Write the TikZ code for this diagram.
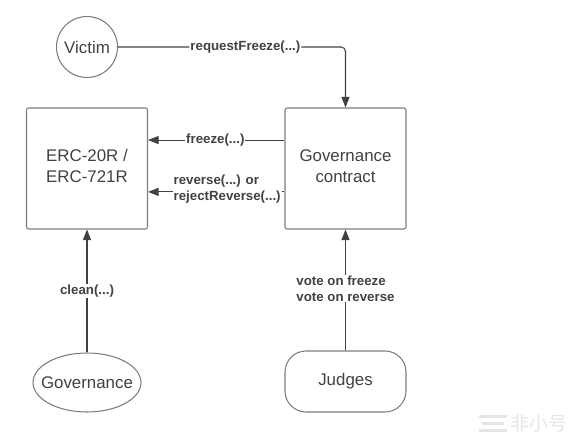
\documentclass[tikz,border=0pt]{standalone}
\usepackage{fontspec}
\setmainfont{Liberation Sans}
\newfontfamily\cjkmark{Noto Sans CJK SC}
\usetikzlibrary{arrows.meta,positioning,calc,shapes.geometric}
\definecolor{inkdark}{HTML}{3F4147}
\definecolor{boxgray}{HTML}{7A7C80}
\definecolor{markgray}{HTML}{E4E5E7}
\tikzset{
  mainbox/.style={draw=boxgray,rounded corners=1.2pt,line width=0.6pt,align=center,
    minimum width=2.42cm,minimum height=2.42cm,inner sep=2pt,text=inkdark,
    font=\fontsize{9.6}{11.9}\selectfont},
  actornode/.style={draw=boxgray,line width=0.6pt,inner sep=0pt,align=center,text=inkdark,
    font=\fontsize{9.6}{11.9}\selectfont},
  callflow/.style={-{Triangle[length=2.1mm,width=1.6mm]},line width=0.6pt,draw=inkdark},
  calllabel/.style={fill=white,inner sep=0.6pt,align=left,text=inkdark,
    font=\bfseries\fontsize{7.55}{9.1}\selectfont}
}
\begin{document}
\begin{tikzpicture}[x=1cm,y=1cm]
\path[use as bounding box] (0,0) rectangle (11.5,-8.84);

\node[actornode,circle,minimum size=1.22cm] (victim) at (1.74,-0.94) {Victim};
\node[mainbox] (erc) at (1.74,-3.37) {ERC-20R /\\ERC-721R\\[-9pt]};
\node[mainbox] (govcontract) at (6.91,-3.37) {Governance\\contract\\[-9pt]};
\node[actornode,ellipse,inner xsep=-4.8pt,minimum width=2.16cm,minimum height=1.18cm] (governance)
  at (1.74,-7.65) {Governance};
\node[actornode,rounded corners=0.42cm,minimum width=2.42cm,minimum height=1.22cm] (judges)
  at (6.91,-7.63) {Judges};

\draw[callflow,rounded corners=2.5pt] (victim) -| node[calllabel,pos=0.28] (requestlabel)
  {requestFreeze(...)} (govcontract);
\draw[callflow] (govcontract.155) -- node[calllabel,pos=0.507] (freezelabel)
  {freeze(...)} (erc.25);
\draw[callflow] (govcontract.201) -- node[calllabel,pos=0.42,yshift=0.05cm] (reverselabel)
  {reverse(...) or\\rejectReverse(...)} (erc.339);
\draw[callflow] (governance) -- node[calllabel,pos=0.5] (cleanlabel)
  {clean(...)} (erc);
\draw[callflow] (judges) -- node[calllabel,pos=0.5,yshift=0.03cm] (votelabel)
  {vote on freeze\\vote on reverse} (govcontract);

% faint site mark in the corner
\fill[markgray] (9.58,-8.3) rectangle (10.14,-8.36);
\fill[markgray] (9.64,-8.44) rectangle (10.08,-8.5);
\fill[markgray] (9.58,-8.58) rectangle (10.14,-8.64);
\node[anchor=west,inner sep=0pt,text=markgray,font=\cjkmark\fontsize{10.8}{12}\selectfont]
  (sitemark) at (10.2,-8.47) {非小号};
\end{tikzpicture}
\end{document}
